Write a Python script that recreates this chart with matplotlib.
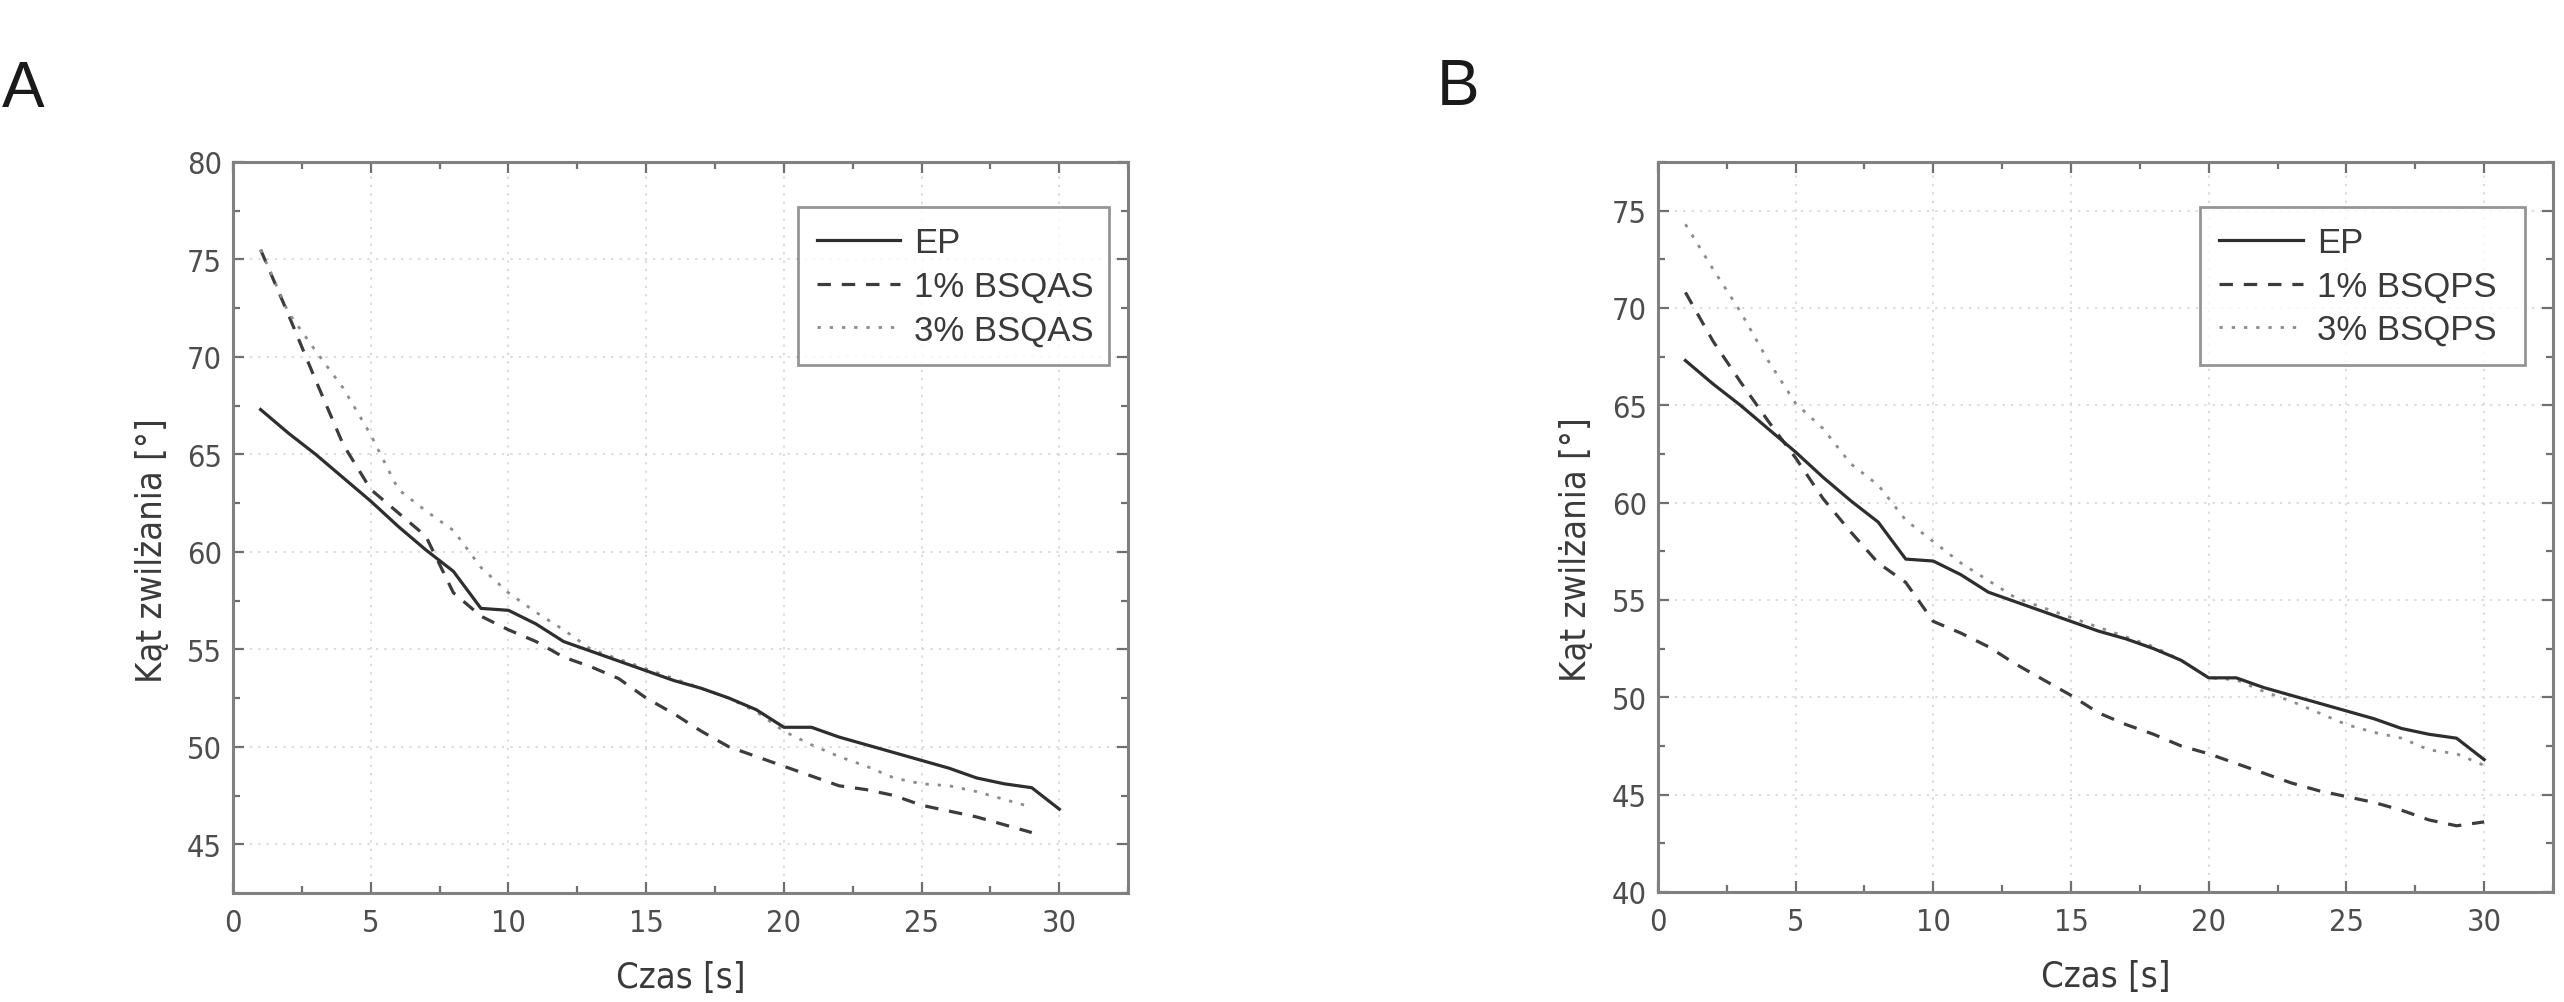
import numpy as np
import matplotlib
matplotlib.use("Agg")
import matplotlib.pyplot as plt
from matplotlib import font_manager
from matplotlib.ticker import MultipleLocator

# ─────────────────────────────────────────────
# DATA
# ─────────────────────────────────────────────
t_30 = list(range(1, 31))
t_29 = list(range(1, 30))

ep = [67.3, 66.1, 65.0, 63.8, 62.6, 61.3, 60.1, 59.0, 57.1, 57.0,
      56.3, 55.4, 54.9, 54.4, 53.9, 53.4, 53.0, 52.5, 51.9, 51.0,
      51.0, 50.5, 50.1, 49.7, 49.3, 48.9, 48.4, 48.1, 47.9, 46.8]

bsqas_1 = [75.5, 72.2, 68.8, 65.5, 63.2, 62.0, 60.8, 57.9, 56.7, 56.0,
           55.4, 54.6, 54.1, 53.5, 52.5, 51.7, 50.8, 50.0, 49.5, 49.0,
           48.5, 48.0, 47.8, 47.5, 47.0, 46.7, 46.4, 46.0, 45.6]
bsqas_3 = [75.5, 72.3, 70.3, 68.4, 66.0, 63.2, 62.1, 61.1, 59.2, 57.9,
           56.9, 56.0, 55.0, 54.5, 54.0, 53.5, 53.0, 52.5, 51.8, 50.8,
           50.1, 49.5, 49.0, 48.4, 48.1, 48.0, 47.7, 47.3, 46.9]

bsqps_1 = [70.8, 68.3, 66.2, 64.2, 62.3, 60.2, 58.5, 56.9, 55.9, 53.9,
           53.3, 52.6, 51.7, 50.9, 50.1, 49.2, 48.6, 48.1, 47.5, 47.1,
           46.6, 46.1, 45.6, 45.2, 44.9, 44.6, 44.2, 43.7, 43.4, 43.6]
bsqps_3 = [74.3, 72.0, 69.8, 67.3, 65.1, 63.8, 62.0, 60.9, 59.1, 58.0,
           56.9, 56.0, 55.1, 54.6, 54.1, 53.6, 53.1, 52.6, 51.9, 51.0,
           50.9, 50.3, 49.8, 49.2, 48.6, 48.2, 47.9, 47.3, 47.1, 46.5]

# ─────────────────────────────────────────────
# FONTS  (narrow face for axis text if one is installed)
# ─────────────────────────────────────────────
REGULAR = "Liberation Sans"
narrow_file = None
for f in font_manager.fontManager.ttflist:
    is_narrow = ("Narrow" in f.name or "Condensed" in f.name
                 or f.stretch in ("condensed", "semi-condensed"))
    if is_narrow and f.style == "normal" and f.weight in (400, "normal", "regular"):
        narrow_file = f.fname
        break

if narrow_file:
    def axis_font(size):
        return font_manager.FontProperties(fname=narrow_file, size=size)
    TICK_SIZE, LABEL_SIZE = 22, 26
else:
    def axis_font(size):
        return font_manager.FontProperties(family=REGULAR, size=size)
    TICK_SIZE, LABEL_SIZE = 20, 23

plt.rcParams["font.family"] = [REGULAR, "DejaVu Sans"]
plt.rcParams["axes.unicode_minus"] = False

SPINE = "#808080"
TXT = "#4d4d4d"


def style_axes(ax, ylim, ymaj):
    ax.set_xlim(0, 32.5)
    ax.set_ylim(*ylim)
    ax.xaxis.set_major_locator(MultipleLocator(5))
    ax.xaxis.set_minor_locator(MultipleLocator(2.5))
    ax.yaxis.set_major_locator(MultipleLocator(ymaj))
    ax.yaxis.set_minor_locator(MultipleLocator(ymaj / 2))
    ax.grid(True, which="major", color="#d2d2d2", linestyle=(0, (1.5, 4)), linewidth=1.1)
    for s in ax.spines.values():
        s.set_color(SPINE)
        s.set_linewidth(2.2)
    ax.tick_params(which="both", direction="in", top=True, right=True, color="#6f6f6f")
    ax.tick_params(which="major", length=8, width=1.6)
    ax.tick_params(which="minor", length=5, width=1.6)
    ax.tick_params(axis="x", which="major", pad=11)
    ax.tick_params(axis="y", which="major", pad=8)
    for lab in ax.get_xticklabels() + ax.get_yticklabels():
        lab.set_fontproperties(axis_font(TICK_SIZE))
        lab.set_color(TXT)
    ax.set_xlabel("Czas [s]", fontproperties=axis_font(LABEL_SIZE), color="#3a3a3a")
    ax.set_ylabel("Kąt zwilżania [°]", fontproperties=axis_font(LABEL_SIZE), color="#3a3a3a")
    ax.xaxis.set_label_coords(0.5, -0.092)
    ax.yaxis.set_label_coords(-0.072, 0.47)


def draw(ax, t1, y1, t3, y3, lab1, lab3, leg_box):
    ax.plot(t_30, ep, color="#2e2e2e", lw=2.3, label="EP", zorder=4)
    ax.plot(t1, y1, color="#3c3c3c", lw=2.3, dashes=(4.2, 3.4), label=lab1, zorder=3)
    ax.plot(t3, y3, color="#8c8c8c", lw=2.0, dashes=(1.2, 3.2), label=lab3, zorder=3)
    leg = ax.legend(loc="upper left", bbox_to_anchor=leg_box, mode="expand",
                    fontsize=25, frameon=True, fancybox=False, borderpad=0.55,
                    labelspacing=0.3, handlelength=2.4, handletextpad=0.4,
                    borderaxespad=0)
    leg.get_frame().set_edgecolor("#7a7a7a")
    leg.get_frame().set_linewidth(2.0)
    for txt in leg.get_texts():
        txt.set_color("#3a3a3a")


# ─────────────────────────────────────────────
# PLOT
# ─────────────────────────────────────────────
fig = plt.figure(figsize=(25.64, 10.03), dpi=100)
ax_a = fig.add_axes([0.0909, 0.1087, 0.3491, 0.7288])
ax_b = fig.add_axes([0.6466, 0.1097, 0.3491, 0.7278])

draw(ax_a, t_29, bsqas_1, t_29, bsqas_3, "1% BSQAS", "3% BSQAS",
     (0.631, 0.717, 0.348, 0.221))
style_axes(ax_a, (42.5, 80), 5)

draw(ax_b, t_30, bsqps_1, t_30, bsqps_3, "1% BSQPS", "3% BSQPS",
     (0.606, 0.707, 0.363, 0.231))
style_axes(ax_b, (40, 77.5), 5)

fig.text(0.0008, 1 - 107 / 1003, "A", fontsize=46, color="#1a1a1a", va="baseline")
fig.text(1437 / 2564, 1 - 105 / 1003, "B", fontsize=46, color="#1a1a1a", va="baseline")

fig.savefig("out.png", dpi=100, facecolor="white")
